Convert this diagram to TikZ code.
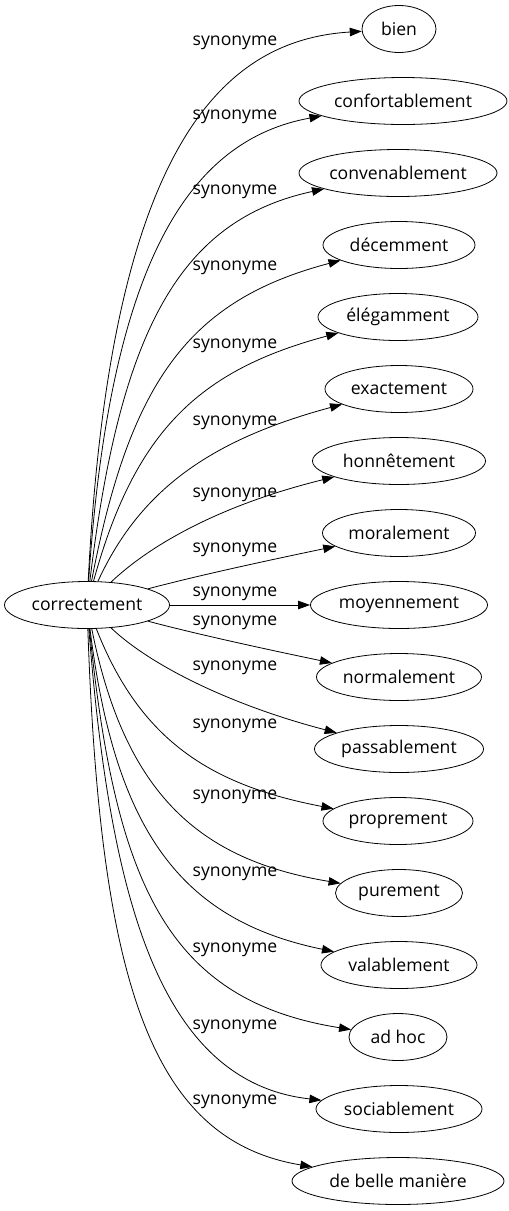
\documentclass[tikz,border=0pt]{standalone}
\usepackage{fontspec}
\setmainfont{Open Sans}
\usetikzlibrary{arrows.meta,shapes.geometric}
\begin{document}
\begin{tikzpicture}[x=1pt,y=-1pt,
  every node/.style={font=\fontsize{17.6}{20}\selectfont},
  term/.style={draw,ellipse,line width=0.8pt,minimum height=47pt,inner sep=0pt},
  lbl/.style={inner sep=0pt},
  edge/.style={line width=0.8pt,-{Triangle[length=12pt,width=8.5pt]}}]
\useasboundingbox (0,0) rectangle (509,1211);
\node[term,minimum width=165pt] (c) at (87,605) {correctement};
\node[term,minimum width=74pt] (n0) at (399,29) {bien};
\node[term,minimum width=208pt] (n1) at (403,101) {confortablement};
\node[term,minimum width=198pt] (n2) at (398,173) {convenablement};
\node[term,minimum width=152pt] (n3) at (399,245) {décemment};
\node[term,minimum width=160pt] (n4) at (398,317) {élégamment};
\node[term,minimum width=148pt] (n5) at (399,389) {exactement};
\node[term,minimum width=173pt] (n6) at (399,461) {honnêtement};
\node[term,minimum width=153pt] (n7) at (399,533) {moralement};
\node[term,minimum width=177pt] (n8) at (399,605) {moyennement};
\node[term,minimum width=165pt] (n9) at (399,677) {normalement};
\node[term,minimum width=169pt] (n10) at (399,749) {passablement};
\node[term,minimum width=150pt] (n11) at (398,821) {proprement};
\node[term,minimum width=127pt] (n12) at (399,893) {purement};
\node[term,minimum width=156pt] (n13) at (399,965) {valablement};
\node[term,minimum width=98pt] (n14) at (398,1037) {ad hoc};
\node[term,minimum width=166pt] (n15) at (399,1109) {sociablement};
\node[term,minimum width=212pt] (n16) at (398,1181) {de belle manière};
\node[lbl] (l0) at (235,43) {synonyme};
\node[lbl] (l1) at (235,117) {synonyme};
\node[lbl] (l2) at (235,192) {synonyme};
\node[lbl] (l3) at (235,268) {synonyme};
\node[lbl] (l4) at (235,346) {synonyme};
\node[lbl] (l5) at (235,423) {synonyme};
\node[lbl] (l6) at (235,495) {synonyme};
\node[lbl] (l7) at (235,550) {synonyme};
\node[lbl] (l8) at (235,594) {synonyme};
\node[lbl] (l9) at (235,623) {synonyme};
\node[lbl] (l10) at (235,668) {synonyme};
\node[lbl] (l11) at (235,726) {synonyme};
\node[lbl] (l12) at (235,797) {synonyme};
\node[lbl] (l13) at (235,874) {synonyme};
\node[lbl] (l14) at (235,950) {synonyme};
\node[lbl] (l15) at (235,1027) {synonyme};
\node[lbl] (l16) at (235,1102) {synonyme};
\draw[edge] (c) .. controls (110,150) and (220,40) .. (n0);
\draw[edge] (c) .. controls (110,260) and (190,140) .. (n1);
\draw[edge] (c) .. controls (120,330) and (180,220) .. (n2);
\draw[edge] (c) .. controls (130,380) and (190,300) .. (n3);
\draw[edge] (c) .. controls (135,430) and (200,370) .. (n4);
\draw[edge] (c) .. controls (140,490) and (210,440) .. (n5);
\draw[edge] (c) .. controls (150,545) and (220,505) .. (n6);
\draw[edge] (c) .. controls (200,575) and (270,560) .. (n7);
\draw[edge] (c) -- (n8);
\draw[edge] (c) .. controls (200,635) and (270,650) .. (n9);
\draw[edge] (c) .. controls (150,665) and (230,705) .. (n10);
\draw[edge] (c) .. controls (140,740) and (210,785) .. (n11);
\draw[edge] (c) .. controls (125,795) and (200,860) .. (n12);
\draw[edge] (c) .. controls (115,830) and (180,920) .. (n13);
\draw[edge] (c) .. controls (115,880) and (165,1000) .. (n14);
\draw[edge] (c) .. controls (110,900) and (160,1082) .. (n15);
\draw[edge] (c) .. controls (100,980) and (150,1140) .. (n16);
\end{tikzpicture}
\end{document}
